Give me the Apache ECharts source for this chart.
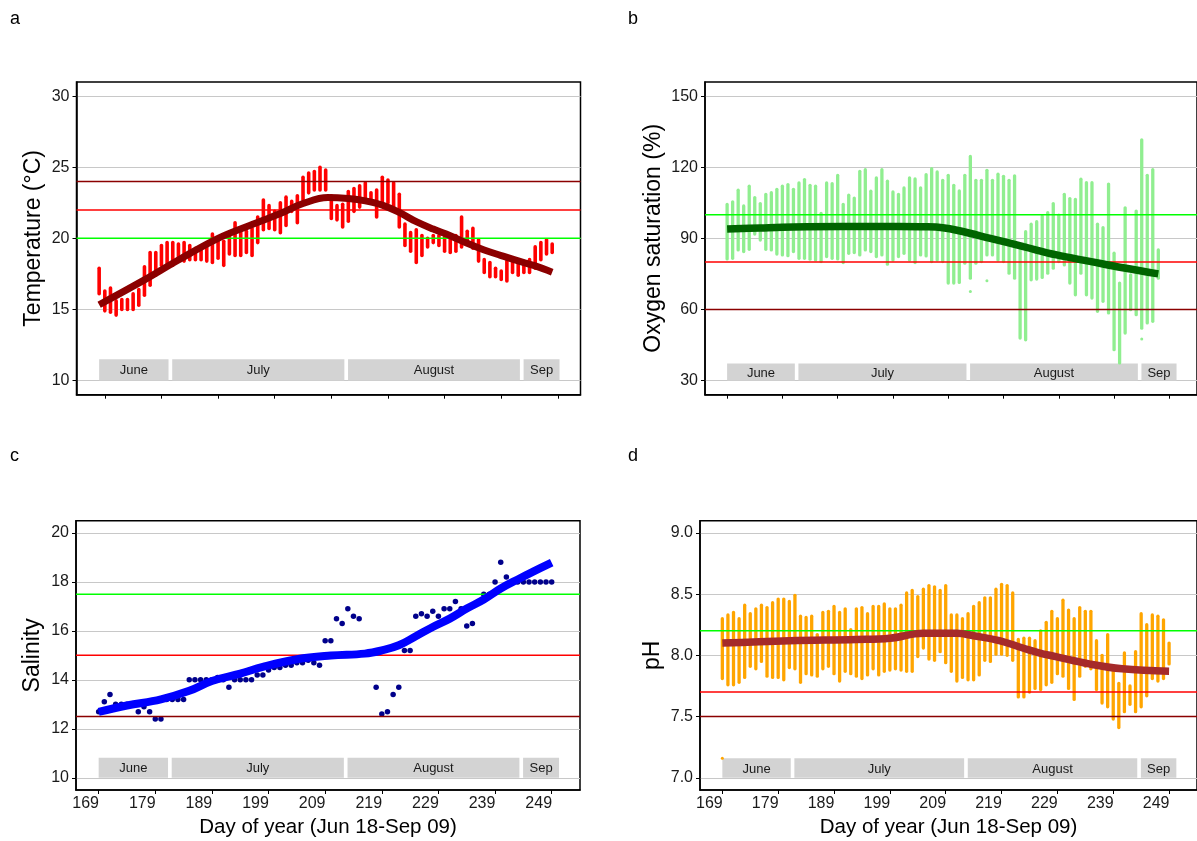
<!DOCTYPE html>
<html>
<head>
<meta charset="utf-8">
<script src="https://cdn.jsdelivr.net/npm/echarts@6/dist/echarts.min.js"></script>
<style>
html,body{margin:0;padding:0;background:#fff;}
#chart{width:1197px;height:841px;}
</style>
</head>
<body>
<div id="chart"></div>
<script>
// ---------------- DATA ----------------
const firstDay = 169;
const xTicksTop = [170, 180, 190, 200, 210, 220, 230, 240, 250];
const xTicksBottom = [169, 179, 189, 199, 209, 219, 229, 239, 249];
const xTitle = 'Day of year (Jun 18-Sep 09)';

const monthNames = ['June', 'July', 'August', 'Sep'];
const monthStart = [169, 181.9, 212.95, 243.95];
const monthEnd = [181.25, 212.3, 243.3, 250.3];

// Temperature (daily min / max), day 169..249
const tempHigh = [17.9,16.3,16.5,15.6,15.7,15.7,16.1,16.4,18.0,19.0,
  19.0,19.5,19.7,19.7,19.6,19.7,19.5,19.3,19.3,19.4,
  20.3,19.9,19.8,20.2,21.1,20.6,20.5,20.7,21.5,22.7,
  22.3,21.9,22.5,22.9,22.6,23.0,24.3,24.6,24.7,25.0,
  24.8,23.0,22.3,22.4,23.3,23.5,23.7,23.9,23.2,23.4,
  24.3,24.1,23.9,23.1,21.0,20.4,20.6,20.2,20.0,20.2,
  20.2,20.1,20.0,20.2,21.5,20.5,20.7,19.9,18.5,18.3,
  17.9,17.7,18.4,18.4,18.4,18.1,18.5,19.4,19.7,19.9,19.6];
const tempLow = [16.1,14.9,14.8,14.6,15.0,15.0,15.0,15.3,16.0,16.7,
  17.4,18.1,18.2,18.1,18.5,18.4,18.5,18.5,18.5,18.4,
  18.3,18.6,18.1,18.9,18.8,18.8,19.0,18.8,19.7,20.6,
  20.7,20.6,20.4,20.9,21.9,21.1,22.7,23.2,23.4,23.4,
  23.4,21.4,21.3,20.8,21.2,21.9,22.2,22.9,22.5,21.5,
  22.5,22.5,22.2,20.8,19.5,19.1,18.3,18.8,19.4,19.7,
  19.5,19.1,19.0,19.1,19.4,19.7,19.3,18.4,17.6,17.3,
  17.3,17.1,17.0,17.6,17.4,17.6,17.6,17.9,18.5,18.9,19.0];
const tempSmoothDays = [169,177,183,190,195,201,205,209.4,213,216,219,222,225,228,231,234,237,240,243,246,249];
const tempSmooth = [15.33,17.08,18.48,20.0,20.82,21.75,22.45,22.87,22.8,22.64,22.34,21.82,21.17,20.65,20.19,19.65,19.18,18.79,18.41,18.06,17.62];
const tempLimits = [24, 22, 20];

// Oxygen saturation (daily min / max), day 169..247
const o2High = [104.3,105.4,110.3,103.7,112.0,107.2,104.7,108.5,109.3,110.7,
  112.0,112.7,110.7,113.4,114.8,112.4,112.0,100.5,113.4,113.1,
  116.6,104.3,108.2,107.0,118.3,119.0,109.9,115.5,119.0,114.1,
  109.6,108.5,111.3,115.5,115.1,111.3,116.9,119.4,118.0,114.5,
  116.6,112.4,110.0,116.6,124.6,114.5,114.5,118.7,114.5,117.1,
  116.2,114.5,116.4,85.1,92.8,96.0,97.0,99.4,100.8,104.7,
  99.8,108.6,106.8,106.4,115.0,113.5,113.5,96.0,94.5,112.9,
  83.7,71.1,102.9,74.6,101.5,131.6,116.6,119.0,85.1];
const o2Low = [81.3,81.6,85.1,84.4,85.4,91.8,89.3,85.4,85.1,83.4,
  83.0,82.7,84.4,81.6,81.6,81.2,80.9,80.2,82.3,81.6,
  81.3,79.8,83.7,84.0,83.0,85.1,84.4,82.3,83.0,79.1,
  80.9,82.3,83.7,80.9,79.8,83.0,82.6,80.2,80.9,80.2,
  71.1,71.1,71.4,79.5,73.2,79.5,80.2,83.0,83.0,80.9,
  80.2,75.3,73.2,47.9,47.2,72.5,72.8,73.5,75.3,77.4,
  80.2,78.8,71.1,66.2,75.3,66.2,64.8,59.2,63.4,58.5,
  43.0,37.4,50.0,59.9,57.8,52.1,54.3,55.0,73.2];
const o2OutlierDays = [213, 216, 244];
const o2OutlierVals = [67.6, 72.1, 47.5];
const o2SmoothDays = [169,175,181,190,200,205,208,211,216.6,222.6,228.6,234.6,240.6,247];
const o2Smooth = [93.9,94.4,94.8,95.0,95.0,94.9,94.5,93.2,90.0,86.5,83.0,80.3,77.6,75.0];
const o2Limits = [60, 80, 100];

// Salinity (daily values)
const salDays = [169,170,171,172,173,174,175,176,177,178,179,180,181,182,183,184,185,186,187,188,
  189,190,191,192,193,194,195,196,197,198,199,200,201,202,203,204,205,206,207,208,
  209,210,211,212,213,214,215,218,219,220,221,222,223,224,225,226,227,228,229,230,
  231,232,233,234,235,237,238,239,240,241,242,243,244,245,246,247,248,249];
const salVals = [12.7,13.1,13.4,13.0,13.0,13.0,13.0,12.7,12.9,12.7,12.4,12.4,13.2,13.2,13.2,13.2,14.0,14.0,14.0,14.0,
  14.0,14.1,14.0,13.7,14.0,14.0,14.0,14.0,14.2,14.2,14.4,14.5,14.5,14.6,14.6,14.7,14.7,14.8,14.7,14.6,
  15.6,15.6,16.5,16.3,16.9,16.6,16.5,13.7,12.6,12.7,13.4,13.7,15.2,15.2,16.6,16.7,16.6,16.8,16.6,16.9,
  16.9,17.2,16.9,16.2,16.3,17.5,17.5,18.0,18.8,18.2,18.0,18.0,18.0,18.0,18.0,18.0,18.0,18.0];
const salSmoothDays = [169,174,180,185,189,194,198,204,210,216,219,222,225,228,231,234,237,240,243,246,249];
const salSmooth = [12.69,12.95,13.2,13.55,13.95,14.25,14.53,14.84,14.99,15.07,15.2,15.41,15.78,16.16,16.5,16.91,17.28,17.73,18.1,18.45,18.79];
const salLimits = [12.5, 15, 17.5];

// pH (daily min / max), day 169..249
const phHigh = [8.30,8.33,8.35,8.30,8.41,8.34,8.38,8.41,8.39,8.43,
  8.46,8.46,8.44,8.49,8.32,8.31,8.32,8.17,8.35,8.36,
  8.40,8.35,8.38,8.21,8.38,8.39,8.34,8.40,8.40,8.42,
  8.38,8.38,8.41,8.51,8.53,8.48,8.54,8.57,8.56,8.53,
  8.57,8.33,8.33,8.30,8.34,8.40,8.43,8.47,8.47,8.54,
  8.58,8.57,8.51,8.13,8.14,8.14,8.12,8.20,8.27,8.36,
  8.30,8.45,8.37,8.30,8.39,8.36,8.36,8.12,8.00,8.17,
  7.87,7.77,8.02,7.75,8.03,8.34,8.25,8.33,8.32,8.29,8.10];
const phLow = [7.81,7.76,7.76,7.78,7.82,7.91,7.89,7.95,7.83,7.82,
  7.82,7.80,7.90,7.89,7.78,7.85,7.84,7.83,7.89,7.91,
  7.85,7.79,7.87,7.85,7.83,7.81,7.84,7.89,7.84,7.87,
  7.88,7.89,7.88,7.87,7.87,7.99,8.06,7.97,7.96,8.03,
  7.94,7.87,7.79,7.82,7.80,7.80,7.84,7.96,7.95,8.01,
  8.01,8.00,7.96,7.66,7.66,7.70,7.73,7.72,7.76,7.78,
  7.85,7.83,7.73,7.64,7.83,7.91,7.89,7.72,7.61,7.58,
  7.48,7.41,7.54,7.60,7.54,7.58,7.67,7.81,7.79,7.81,7.93];
const phOutlierDays = [169];
const phOutlierVals = [7.16];
const phSmoothDays = [169,181,193,199,205,211,214,218.6,222.8,225.7,228.7,234.7,240.6,249];
const phSmooth = [8.10,8.12,8.13,8.14,8.18,8.18,8.16,8.12,8.06,8.02,7.99,7.93,7.89,7.87];
const phLimits = [7.5, 7.7, 8.2];

// ---------------- CHART ----------------
const FONT = 'Liberation Sans, Arial, Helvetica, sans-serif';
const limitColors = { low: '#8B0000', mid: '#FF0000', high: '#00FF00' };

const chart = echarts.init(document.getElementById('chart'), null, { renderer: 'canvas' });

const grids = [
  { left: 76.5, top: 82, width: 504, height: 312.7 },
  { left: 705, top: 82, width: 495, height: 312.7 },
  { left: 76, top: 520.7, width: 504, height: 269.3 },
  { left: 700, top: 520.7, width: 501, height: 269.3 }
].map(g => Object.assign({ show: true, borderColor: '#000', borderWidth: 1.5, backgroundColor: 'transparent' }, g));

function makeX(gi, ticks, showLabels) {
  return {
    type: 'value', gridIndex: gi, min: 165, max: 254,
    axisLine: { show: true, onZero: false, lineStyle: { color: '#000', width: 1.5 } },
    axisTick: { show: true, length: 4, customValues: ticks, lineStyle: { color: '#000', width: 1 } },
    axisLabel: { show: showLabels, customValues: ticks, fontSize: 16, color: '#1a1a1a', fontFamily: FONT, margin: 6, padding: [0, 26, 0, 0] },
    splitLine: { show: false },
    name: showLabels ? xTitle : '', nameLocation: 'middle', nameGap: 27,
    nameTextStyle: { fontSize: 20.5, color: '#000', fontFamily: FONT }
  };
}
function makeY(gi, min, max, ticks, title, gap, dec) {
  return {
    type: 'value', gridIndex: gi, min: min, max: max,
    axisLine: { show: true, onZero: false, lineStyle: { color: '#000', width: 1.5 } },
    axisTick: { show: true, length: 4, customValues: ticks, lineStyle: { color: '#000', width: 1 } },
    axisLabel: { customValues: ticks, fontSize: 16, color: '#1a1a1a', fontFamily: FONT, margin: 7,
      formatter: v => v.toFixed(dec) },
    splitLine: { show: true, lineStyle: { color: '#C8C8C8', width: 1.2 } },
    name: title, nameLocation: 'middle', nameRotate: 90, nameGap: gap,
    nameTextStyle: { fontSize: 23, color: '#000', fontFamily: FONT }
  };
}

function bandSeries(gi, yLo, yHi) {
  return {
    type: 'custom', xAxisIndex: gi, yAxisIndex: gi, z: 1, silent: true,
    data: monthStart.map((s, i) => [s, monthEnd[i]]),
    encode: { x: [0, 1] },
    renderItem: function (params, api) {
      const p1 = api.coord([api.value(0), yHi]);
      const p2 = api.coord([api.value(1), yLo]);
      return {
        type: 'group', children: [
          { type: 'rect', shape: { x: p1[0], y: p1[1], width: p2[0] - p1[0], height: p2[1] - p1[1] },
            style: { fill: '#D3D3D3' } },
          { type: 'text', style: { text: monthNames[params.dataIndex], x: (p1[0] + p2[0]) / 2, y: (p1[1] + p2[1]) / 2 + 1,
            align: 'center', verticalAlign: 'middle', fontSize: 13, fontFamily: FONT, fill: '#1a1a1a' } }
        ]
      };
    }
  };
}
function rangeSeries(gi, lows, highs, color, width) {
  return {
    type: 'custom', xAxisIndex: gi, yAxisIndex: gi, z: 2, silent: true,
    data: lows.map((lo, i) => [firstDay + i, lo, highs[i]]),
    encode: { x: 0, y: [1, 2] },
    renderItem: function (params, api) {
      const x = api.value(0);
      const a = api.coord([x, api.value(1)]);
      const b = api.coord([x, api.value(2)]);
      return { type: 'line', shape: { x1: a[0], y1: a[1], x2: b[0], y2: b[1] },
        style: { stroke: color, lineWidth: width, lineCap: 'round' } };
    }
  };
}
function limitSeries(gi, vals) {
  const cols = [limitColors.low, limitColors.mid, limitColors.high];
  return {
    type: 'custom', xAxisIndex: gi, yAxisIndex: gi, z: 3, silent: true,
    data: vals.map(v => [165, v]),
    encode: { x: 0, y: 1 },
    renderItem: function (params, api) {
      const cs = params.coordSys;
      const y = api.coord([api.value(0), api.value(1)])[1];
      return { type: 'line', shape: { x1: cs.x, y1: y, x2: cs.x + cs.width, y2: y },
        style: { stroke: cols[params.dataIndex], lineWidth: 1.5 } };
    }
  };
}
function smoothSeries(gi, days, vals, color, width) {
  return {
    type: 'line', xAxisIndex: gi, yAxisIndex: gi, z: 5, silent: true,
    data: days.map((d, i) => [d, vals[i]]),
    smooth: 0.4, showSymbol: false, symbol: 'none',
    lineStyle: { color: color, width: width, cap: 'butt' }
  };
}
function pointSeries(gi, days, vals, color, size, z) {
  return {
    type: 'scatter', xAxisIndex: gi, yAxisIndex: gi, z: z, silent: true,
    data: days.map((d, i) => [d, vals[i]]),
    symbolSize: size, itemStyle: { color: color, opacity: 1 }
  };
}

const option = {
  animation: false,
  backgroundColor: '#ffffff',
  textStyle: { fontFamily: FONT },
  grid: grids,
  xAxis: [makeX(0, xTicksTop, false), makeX(1, xTicksBottom, false), makeX(2, xTicksBottom, true), makeX(3, xTicksBottom, true)],
  yAxis: [
    makeY(0, 9, 31, [10, 15, 20, 25, 30], 'Temperature (°C)', 31, 0),
    makeY(1, 24, 156, [30, 60, 90, 120, 150], 'Oxygen saturation (%)', 40, 0),
    makeY(2, 9.5, 20.5, [10, 12, 14, 16, 18, 20], 'Salinity', 32, 0),
    makeY(3, 6.9, 9.1, [7.0, 7.5, 8.0, 8.5, 9.0], 'pH', 36, 1)
  ],
  series: [
    bandSeries(0, 10, 11.5),
    rangeSeries(0, tempLow, tempHigh, '#FF0000', 3.6),
    limitSeries(0, tempLimits),
    smoothSeries(0, tempSmoothDays, tempSmooth, '#8B0000', 7),

    bandSeries(1, 30, 37.2),
    rangeSeries(1, o2Low, o2High, '#90EE90', 3.3),
    pointSeries(1, o2OutlierDays, o2OutlierVals, '#90EE90', 3, 2),
    limitSeries(1, o2Limits),
    smoothSeries(1, o2SmoothDays, o2Smooth, '#006400', 7.5),

    bandSeries(2, 10, 10.82),
    pointSeries(2, salDays, salVals, '#00008B', 5.5, 2),
    limitSeries(2, salLimits),
    smoothSeries(2, salSmoothDays, salSmooth, '#0000FF', 8),

    bandSeries(3, 7.0, 7.16),
    rangeSeries(3, phLow, phHigh, '#FFA500', 3.3),
    pointSeries(3, phOutlierDays, phOutlierVals, '#FFA500', 3, 2),
    limitSeries(3, phLimits),
    smoothSeries(3, phSmoothDays, phSmooth, '#A52A2A', 7.5)
  ],
  graphic: [
    { type: 'text', left: 10, top: 10, style: { text: 'a', fontSize: 18, fontFamily: FONT, fill: '#000' } },
    { type: 'text', left: 628, top: 10, style: { text: 'b', fontSize: 18, fontFamily: FONT, fill: '#000' } },
    { type: 'text', left: 10, top: 447, style: { text: 'c', fontSize: 18, fontFamily: FONT, fill: '#000' } },
    { type: 'text', left: 628, top: 447, style: { text: 'd', fontSize: 18, fontFamily: FONT, fill: '#000' } }
  ]
};
chart.setOption(option);
</script>
</body>
</html>
